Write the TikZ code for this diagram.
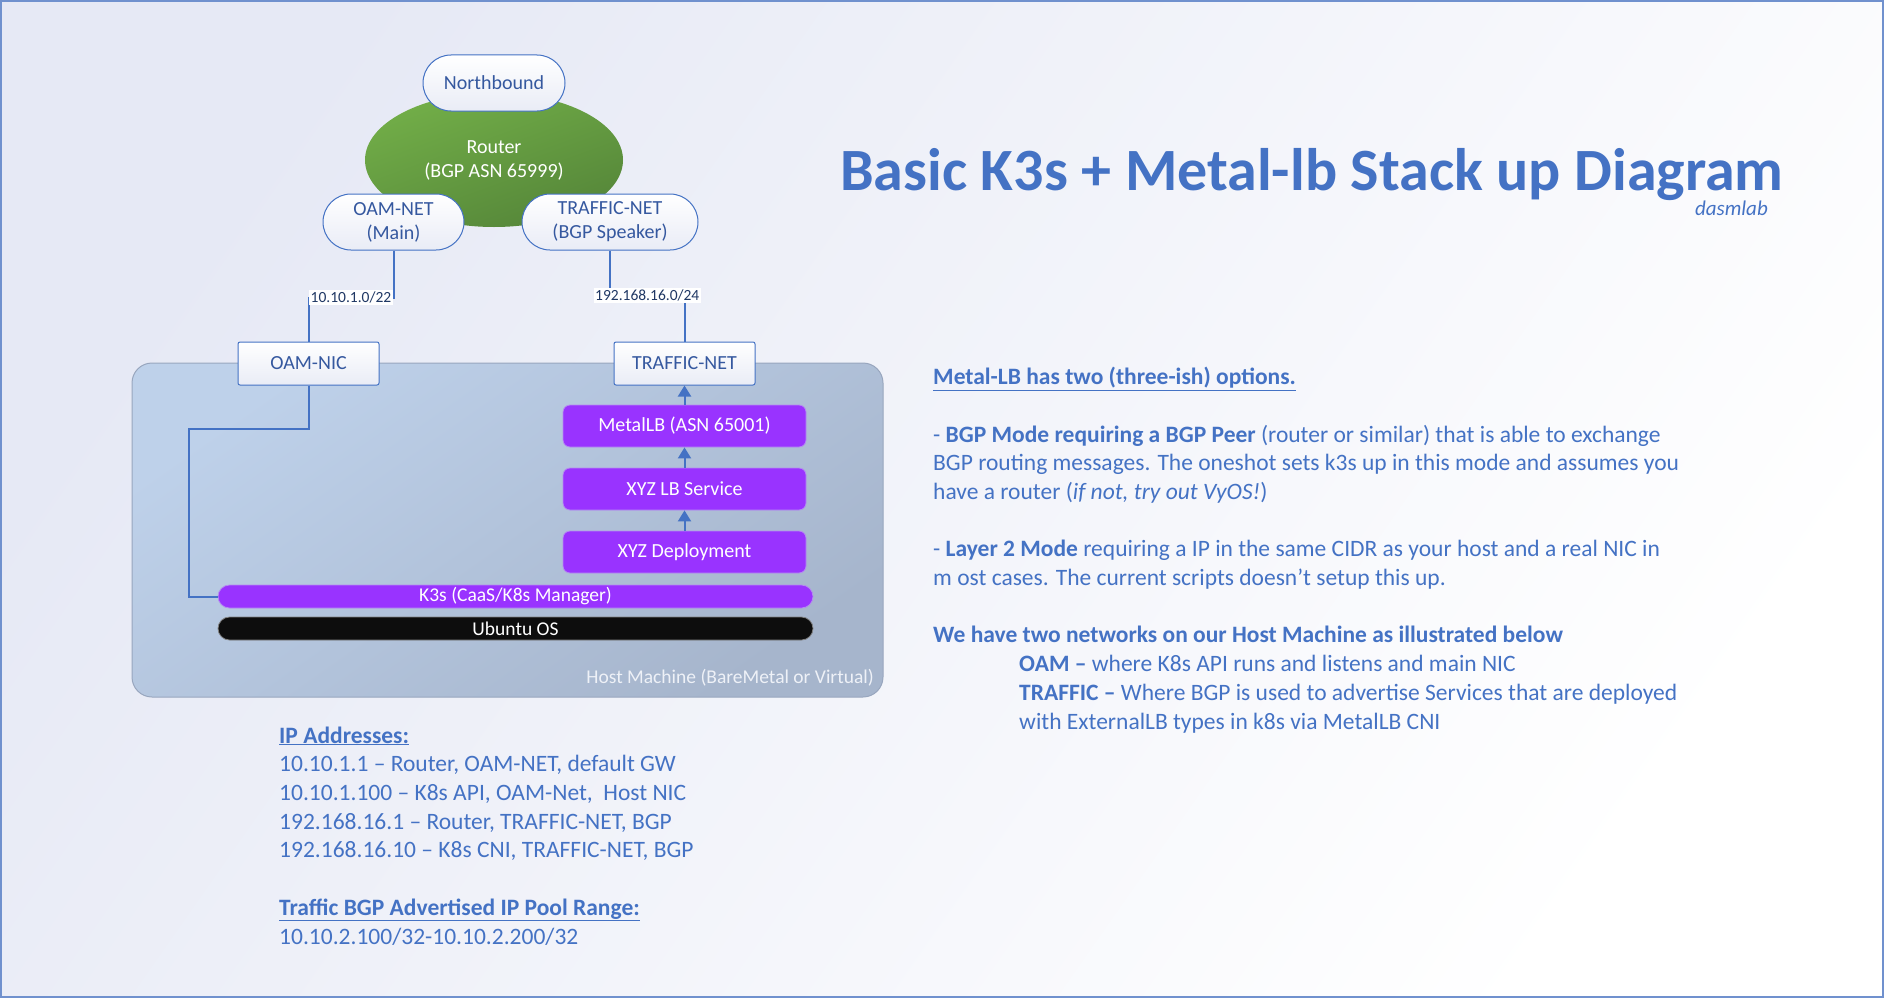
\documentclass[tikz,border=0pt]{standalone}
\usepackage{fontspec}
\setmainfont{Carlito}
\usepackage{tikz}
\usetikzlibrary{arrows.meta,positioning,shapes.geometric}
\definecolor{pageblue}{HTML}{E6E9F5}
\definecolor{framebl}{HTML}{7091CE}
\definecolor{textbl}{HTML}{4472C4}
\definecolor{pilltext}{HTML}{35589F}
\definecolor{pillgrey}{HTML}{E9ECF6}
\definecolor{labeltext}{HTML}{203864}
\definecolor{linebl}{HTML}{4472C4}
\definecolor{routerlt}{HTML}{72AE48}
\definecolor{routerdk}{HTML}{558639}
\definecolor{hostlt}{HTML}{BED1EA}
\definecolor{hostdk}{HTML}{A6B5CC}
\definecolor{hostedge}{HTML}{98A6BE}
\definecolor{k8purple}{HTML}{9933FF}
\definecolor{k8edge}{HTML}{B58AF2}
\definecolor{osblack}{HTML}{0D0D0D}
\definecolor{hosttext}{HTML}{EEF1F7}

\tikzset{
  netpill/.style={draw=linebl, line width=1pt, rounded corners=28pt, top color=white, bottom color=pillgrey,
    text=pilltext, font=\fontsize{20}{24}\selectfont, align=center, inner sep=0pt, minimum height=56pt},
  nicbox/.style={draw=linebl, line width=1pt, rounded corners=2pt, top color=white, bottom color=pillgrey,
    text=pilltext, font=\fontsize{20}{24}\selectfont, inner sep=0pt, minimum width=141pt, minimum height=43pt},
  stackbox/.style={draw=k8edge, line width=0.8pt, fill=k8purple, rounded corners=7pt, text=white,
    font=\fontsize{20}{24}\selectfont, inner sep=0pt, minimum width=243pt, minimum height=42pt},
  layerbar/.style={line width=0.8pt, rounded corners=11.5pt, text=white, font=\fontsize{19.5}{22}\selectfont,
    inner sep=0pt, minimum width=595pt, minimum height=23pt},
  wire/.style={draw=linebl, line width=2pt},
  flow/.style={wire, -{Triangle[width=13pt,length=11pt]}},
  netlabel/.style={fill=white, text=labeltext, font=\fontsize{15.5}{18}\selectfont, inner sep=1.5pt},
  note/.style={text=textbl, align=left, inner sep=0pt, font=\fontsize{23.5}{28.7}\selectfont},
}

\begin{document}
\begin{tikzpicture}[x=1pt,y=-1pt]
  \useasboundingbox (0,0) rectangle (1884,998);
  % page background and frame
  \shade[top color=pageblue, bottom color=white, shading angle=55] (0,0) rectangle (1884,998);
  \draw[framebl, line width=2pt] (1,1) rectangle (1883,997);

  % Draw the router and its networks
  \node[ellipse, minimum width=258pt, minimum height=134pt, inner sep=0pt, top color=routerlt, bottom color=routerdk,
    shading angle=20, text=white, align=center, font=\fontsize{20}{24}\selectfont] (router) at (494,160) {Router\\(BGP ASN 65999)};
  \node[netpill, minimum width=142pt] (north) at (494,83) {Northbound};
  \node[netpill, minimum width=141pt] (oamnet) at (393.5,222) {OAM-NET\\(Main)};
  \node[netpill, minimum width=176pt] (trafnet) at (610,222) {TRAFFIC-NET\\(BGP Speaker)};

  % Draw the host machine
  \node[draw=hostedge, line width=1pt, rounded corners=20pt, top color=hostlt, bottom color=hostdk, shading angle=35,
    minimum width=751pt, minimum height=334pt, inner sep=0pt] (host) at (507.5,530) {};
  \node[anchor=base east, inner sep=0pt, text=hosttext, font=\fontsize{19.5}{22}\selectfont] (hostlbl) at (874,683)
    {Host Machine (BareMetal or Virtual)};

  % NICs on the host edge
  \node[nicbox] (oamnic) at (308.5,363.5) {OAM-NIC};
  \node[nicbox] (trafnic) at (684.5,363.5) {TRAFFIC-NET};

  % Label the stack
  \node[stackbox] (metallb) at (684.5,426) {MetalLB (ASN 65001)};
  \node[stackbox] (lbsvc) at (684.5,489) {XYZ LB Service};
  \node[stackbox] (deploy) at (684.5,552) {XYZ Deployment};
  \node[layerbar, draw=k8edge, fill=k8purple] (k3s) at (515.5,596.5) {K3s (CaaS/K8s Manager)};
  \node[layerbar, draw=gray, fill=osblack] (ubuntu) at (515.5,628.5) {Ubuntu OS};

  % connectors
  \draw[wire] (oamnet.south) -- ++(0,47) -| node[netlabel, pos=0.25] (oamsub) {10.10.1.0/22} (oamnic.north);
  \draw[wire] (trafnet.south) -- ++(0,45) -| node[netlabel, pos=0.25] (trafsub) {192.168.16.0/24} (trafnic.north);
  \coordinate (oambend) at (189,429);
  \draw[wire] (oamnic.south) |- (oambend) |- (k3s.west);
  \draw[flow] (deploy.north) -- (lbsvc.south);
  \draw[flow] (lbsvc.north) -- (metallb.south);
  \draw[flow] (metallb.north) -- (trafnic.south);

  % title
  \node[anchor=base west, inner sep=0pt, text=textbl, font=\bfseries\fontsize{60}{72}\selectfont] (title) at (840,190)
    {Basic K3s + Metal-lb Stack up Diagram};
  \node[anchor=base east, inner sep=0pt, text=textbl, font=\itshape\fontsize{21}{24}\selectfont] (brand) at (1768,215) {dasmlab};

  % notes (base = last line)
  \node[note, anchor=base west] (options) at (933,729) {%
    \textbf{\underline{Metal-LB has two (three-ish) options.}}\\[28.7pt]
    - \textbf{BGP Mode requiring a BGP Peer} (router or similar) that is able to exchange\\
    BGP routing messages. The oneshot sets k3s up in this mode and assumes you\\
    have a router (\textit{if not, try out VyOS!})\\[28.7pt]
    - \textbf{Layer 2 Mode} requiring a IP in the same CIDR as your host and a real NIC in\\
    m ost cases. The current scripts doesn’t setup this up.\\[28.7pt]
    \textbf{We have two networks on our Host Machine as illustrated below}\\
    \hspace*{86pt}\textbf{OAM –} where K8s API runs and listens and main NIC\\
    \hspace*{86pt}\textbf{TRAFFIC –} Where BGP is used to advertise Services that are deployed\\
    \hspace*{86pt}with ExternalLB types in k8s via MetalLB CNI};
  \node[note, anchor=base west] (ipaddr) at (279,944) {%
    \textbf{\underline{IP Addresses:}}\\
    10.10.1.1 – Router, OAM-NET, default GW\\
    10.10.1.100 – K8s API, OAM-Net,\ \ Host NIC\\
    192.168.16.1 – Router, TRAFFIC-NET, BGP\\
    192.168.16.10 – K8s CNI, TRAFFIC-NET, BGP\\[28.7pt]
    \textbf{\underline{Traffic BGP Advertised IP Pool Range:}}\\
    10.10.2.100/32-10.10.2.200/32};
\end{tikzpicture}
\end{document}
